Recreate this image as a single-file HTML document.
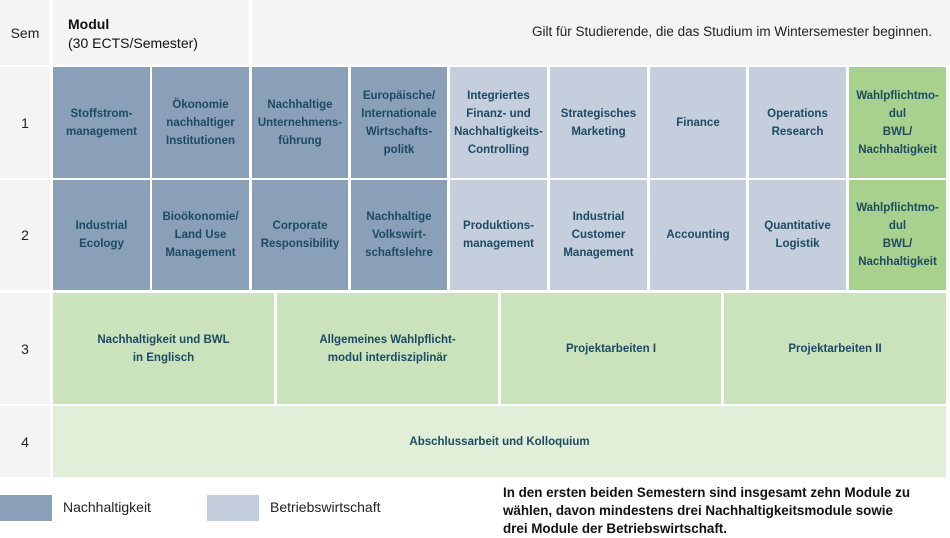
<!DOCTYPE html>
<html><head><meta charset="utf-8"><style>
*{margin:0;padding:0;box-sizing:border-box}
body{width:950px;height:538px;background:#fff;font-family:"Liberation Sans",sans-serif;position:relative;overflow:hidden}
.c{position:absolute;display:flex;align-items:center;justify-content:center;text-align:center;font-weight:bold;font-size:11.5px;line-height:18px;color:#1d4a63}
.n{background:#8aa0b8}.b{background:#c5cedc}.g{background:#a9d18e}.lg{background:#cae3bc}.xg{background:#e1eed8}
.s{position:absolute;left:0;width:50px;background:#f4f4f4;display:flex;align-items:center;justify-content:center;font-size:14px;color:#222}
</style></head><body>
<div class="s" style="top:0;height:65px">Sem</div>
<div style="position:absolute;left:53px;top:0;width:196px;height:65px;background:#f4f4f4"></div>
<div style="position:absolute;left:252px;top:0;width:698px;height:65px;background:#f4f4f4"></div>
<div style="position:absolute;left:68px;top:15px;font-size:14px;color:#111;line-height:19px"><b>Modul</b><br>(30 ECTS/Semester)</div>
<div style="position:absolute;right:18px;top:24px;font-size:13.5px;color:#222">Gilt für Studierende, die das Studium im Wintersemester beginnen.</div>

<div class="s" style="top:67px;height:111px">1</div>
<div class="s" style="top:180px;height:110px">2</div>
<div class="s" style="top:293px;height:111px">3</div>
<div class="s" style="top:406px;height:71px">4</div>

<div class="c n" style="left:53px;top:67px;width:97px;height:111px">Stoffstrom-<br>management</div>
<div class="c n" style="left:152px;top:67px;width:97px;height:111px">Ökonomie<br>nachhaltiger<br>Institutionen</div>
<div class="c n" style="left:252px;top:67px;width:96px;height:111px">Nachhaltige<br>Unternehmens-<br>führung</div>
<div class="c n" style="left:351px;top:67px;width:96px;height:111px">Europäische/<br>Internationale<br>Wirtschafts-<br>politk</div>
<div class="c b" style="left:450px;top:67px;width:97px;height:111px">Integriertes<br>Finanz- und<br>Nachhaltigkeits-<br>Controlling</div>
<div class="c b" style="left:550px;top:67px;width:97px;height:111px">Strategisches<br>Marketing</div>
<div class="c b" style="left:650px;top:67px;width:96px;height:111px">Finance</div>
<div class="c b" style="left:749px;top:67px;width:97px;height:111px">Operations<br>Research</div>
<div class="c g" style="left:849px;top:67px;width:97px;height:111px">Wahlpflichtmo-<br>dul<br>BWL/<br>Nachhaltigkeit</div>

<div class="c n" style="left:53px;top:180px;width:97px;height:110px">Industrial<br>Ecology</div>
<div class="c n" style="left:152px;top:180px;width:97px;height:110px">Bioökonomie/<br>Land Use<br>Management</div>
<div class="c n" style="left:252px;top:180px;width:96px;height:110px">Corporate<br>Responsibility</div>
<div class="c n" style="left:351px;top:180px;width:96px;height:110px">Nachhaltige<br>Volkswirt-<br>schaftslehre</div>
<div class="c b" style="left:450px;top:180px;width:97px;height:110px">Produktions-<br>management</div>
<div class="c b" style="left:550px;top:180px;width:97px;height:110px">Industrial<br>Customer<br>Management</div>
<div class="c b" style="left:650px;top:180px;width:96px;height:110px">Accounting</div>
<div class="c b" style="left:749px;top:180px;width:97px;height:110px">Quantitative<br>Logistik</div>
<div class="c g" style="left:849px;top:180px;width:97px;height:110px">Wahlpflichtmo-<br>dul<br>BWL/<br>Nachhaltigkeit</div>

<div class="c lg" style="left:53px;top:293px;width:221px;height:111px">Nachhaltigkeit und BWL<br>in Englisch</div>
<div class="c lg" style="left:277px;top:293px;width:221px;height:111px">Allgemeines Wahlpflicht-<br>modul interdisziplinär</div>
<div class="c lg" style="left:501px;top:293px;width:220px;height:111px">Projektarbeiten I</div>
<div class="c lg" style="left:724px;top:293px;width:222px;height:111px">Projektarbeiten II</div>

<div class="c xg" style="left:53px;top:406px;width:893px;height:71px">Abschlussarbeit und Kolloquium</div>

<div style="position:absolute;left:0;top:495px;width:52px;height:26px;background:#8aa0b8"></div>
<div style="position:absolute;left:63px;top:499px;font-size:14px;color:#222">Nachhaltigkeit</div>
<div style="position:absolute;left:207px;top:495px;width:52px;height:26px;background:#c5cedc"></div>
<div style="position:absolute;left:270px;top:499px;font-size:14px;color:#222">Betriebswirtschaft</div>
<div style="position:absolute;left:503px;top:484px;width:447px;font-size:13.4px;font-weight:bold;line-height:18px;color:#111;white-space:nowrap">In den ersten beiden Semestern sind insgesamt zehn Module zu<br>wählen, davon mindestens drei Nachhaltigkeitsmodule sowie<br>drei Module der Betriebswirtschaft.</div>
</body></html>
